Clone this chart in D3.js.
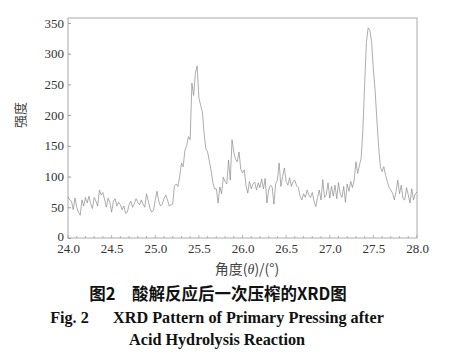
<!DOCTYPE html>
<html>
<head>
<meta charset="utf-8">
<script src="https://cdn.jsdelivr.net/npm/d3@7"></script>
<style>
body { margin: 0; background: #fff; }
.tick text { font-family: "Liberation Serif", "DejaVu Serif", serif; }
</style>
</head>
<body>
<div id="chart"></div>
<script>
// 2θ scan, 24.0 - 28.0 deg, 0.02 deg per sample
var angleStart = 24.0, angleStep = 0.02;
var intensity = [
  67, 62, 60, 46, 65, 50, 42, 37, 62, 52, 66, 57, 68, 56, 48, 66, 60, 52, 78, 70,
  74, 62, 50, 65, 58, 42, 60, 64, 52, 58, 54, 46, 52, 40, 42, 54, 60, 50, 56, 64,
  58, 54, 62, 55, 50, 72, 60, 48, 42, 45, 62, 76, 60, 52, 55, 64, 70, 62, 52, 54,
  55, 85, 88, 84, 100, 122, 116, 143, 150, 165, 160, 252, 232, 268, 280, 228, 216, 205, 170, 145,
  140, 125, 110, 90, 80, 80, 57, 83, 72, 99, 92, 88, 127, 94, 160, 140, 128, 124, 140, 112,
  106, 111, 86, 73, 92, 80, 88, 91, 78, 90, 82, 96, 80, 97, 57, 78, 86, 83, 55, 88,
  94, 122, 84, 100, 114, 92, 86, 98, 84, 92, 94, 85, 82, 68, 62, 72, 66, 78, 70, 66,
  74, 60, 51, 66, 78, 62, 95, 66, 70, 90, 65, 84, 68, 86, 64, 90, 72, 66, 84, 58,
  88, 76, 92, 82, 94, 124, 105, 118, 130, 176, 250, 318, 342, 338, 318, 274, 241, 192, 149, 116,
  108, 116, 102, 92, 82, 78, 73, 62, 76, 94, 72, 86, 64, 62, 82, 70, 57, 80, 62, 72,
  75
];
var xTicks = [24.0, 24.5, 25.0, 25.5, 26.0, 26.5, 27.0, 27.5, 28.0];
var yTicks = [0, 50, 100, 150, 200, 250, 300, 350];

var points = intensity.map(function(v, i){ return [angleStart + i * angleStep, v]; });

var W = 462, H = 355;
var pl = 68, pr = 417, pt = 18, pb = 238;

var svg = d3.select("#chart").append("svg").attr("width", W).attr("height", H);

var x = d3.scaleLinear().domain([24, 28]).range([pl, pr]);
var y = d3.scaleLinear().domain([0, 358]).range([pb, pt]);

// frame
svg.append("rect").attr("x", pl).attr("y", pt).attr("width", pr - pl).attr("height", pb - pt)
  .style("fill", "none").style("stroke", "#aaa").style("stroke-width", 1);

// minor x ticks
svg.append("g").selectAll("line").data(d3.range(0, 41)).enter().append("line")
  .attr("x1", function(d){ return x(24 + d * 0.1); }).attr("x2", function(d){ return x(24 + d * 0.1); })
  .attr("y1", pb).attr("y2", function(d){ return d % 5 == 0 ? pb - 3 : pb - 2; })
  .style("stroke", "#999").style("stroke-width", 0.7);

var xAxis = svg.append("g").attr("transform", "translate(0," + pb + ")")
  .call(d3.axisBottom(x).tickValues(xTicks).tickFormat(d3.format(".1f")).tickSize(0).tickPadding(6));
xAxis.attr("font-family", "Liberation Serif").attr("font-size", 13);
xAxis.select(".domain").remove();
xAxis.selectAll("text").style("fill", "#333");

var yAxis = svg.append("g").attr("transform", "translate(" + pl + ",0)")
  .call(d3.axisLeft(y).tickValues(yTicks).tickSize(-3).tickPadding(4));
yAxis.attr("font-family", "Liberation Serif").attr("font-size", 13);
yAxis.select(".domain").remove();
yAxis.selectAll("line").style("stroke", "#999");
yAxis.selectAll("text").style("fill", "#333");
yAxis.selectAll(".tick").filter(function(d){ return d === 0; }).select("text").attr("dy", "0.2em");

var line = d3.line().x(function(d){ return x(d[0]); }).y(function(d){ return y(d[1]); });
svg.append("path").datum(points).attr("d", line)
  .style("fill", "none").style("stroke", "#8a8a8a").style("stroke-width", 0.7);

// axis titles
svg.append("text").text("强度")
  .attr("transform", "translate(25,115) rotate(-90)")
  .attr("text-anchor", "middle")
  .style("font-family", "Noto Sans CJK SC").style("font-size", "13px").style("fill", "#444");

var xt = svg.append("text").attr("x", 247).attr("y", 274).attr("text-anchor", "middle")
  .style("font-family", "Noto Sans CJK SC").style("font-size", "14px").style("fill", "#444");
xt.append("tspan").text("角度(");
xt.append("tspan").text("θ").style("font-style", "italic").style("font-family", "Liberation Serif");
xt.append("tspan").text(")/(°)");

// caption
svg.append("text").text("图2\u2003酸解反应后一次压榨的XRD图")
  .attr("x", 218).attr("y", 300).attr("text-anchor", "middle")
  .style("font-family", "Noto Sans CJK SC").style("font-weight", "700").style("font-size", "16.5px").style("fill", "#111");
svg.append("text").text("Fig. 2\u2003\u2002XRD Pattern of Primary Pressing after")
  .attr("x", 217).attr("y", 323).attr("text-anchor", "middle")
  .style("font-family", "Liberation Serif").style("font-weight", "700").style("font-size", "16.2px").style("fill", "#111");
svg.append("text").text("Acid Hydrolysis Reaction")
  .attr("x", 217).attr("y", 345).attr("text-anchor", "middle")
  .style("font-family", "Liberation Serif").style("font-weight", "700").style("font-size", "16.2px").style("fill", "#111");
</script>
</body>
</html>
